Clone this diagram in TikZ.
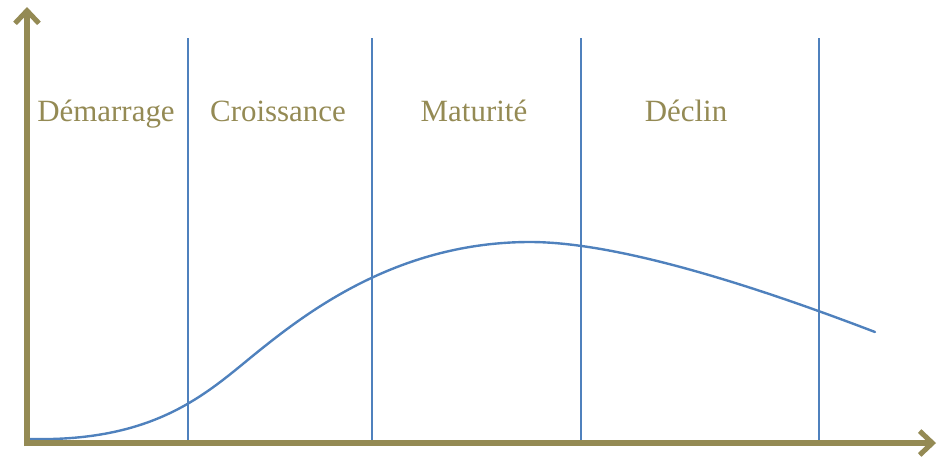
\documentclass[tikz,border=0pt]{standalone}
\usepackage{fontspec}
\setmainfont{Liberation Serif}
\usetikzlibrary{arrows.meta}
\definecolor{axisolive}{HTML}{948A54}
\definecolor{curveblue}{HTML}{4F81BD}

\begin{document}
\begin{tikzpicture}[
    x=0.025cm, y=-0.025cm,
    axis/.style={line width=5.5*0.709pt, axisolive,
                 -{Straight Barb[length=9pt, width=17pt, line width=3.6pt]}},
    phase_line/.style={line width=2.4*0.709pt, curveblue},
    phase_label/.style={font=\fontsize{22}{26}\selectfont, text=axisolive, anchor=base},
    curve/.style={line width=2.4*0.709pt, curveblue, line cap=round}
]
\useasboundingbox (0,0) rectangle (938,456);

% Phase separators
\foreach \xpos in {188, 372, 581, 819} {
    \draw[phase_line] (\xpos, 38) -- (\xpos, 442);
}

% Phase labels
\node[phase_label] (demarrage) at (106, 121) {Démarrage};
\node[phase_label] (croissance) at (278, 121) {Croissance};
\node[phase_label] (maturite) at (474, 121) {Maturité};
\node[phase_label] (declin) at (686, 121) {Déclin};

% Life cycle curve
\draw[curve] (30,439) .. controls (160,442) and (210,390) .. (260,350)
    .. controls (310,310) and (400,242) .. (530,242)
    .. controls (620,242) and (760,288) .. (875,332);

% Axes
\draw[axis] (28, 443) -- (936, 443);
\draw[axis] (27, 446) -- (27, 7);

\end{tikzpicture}
\end{document}
